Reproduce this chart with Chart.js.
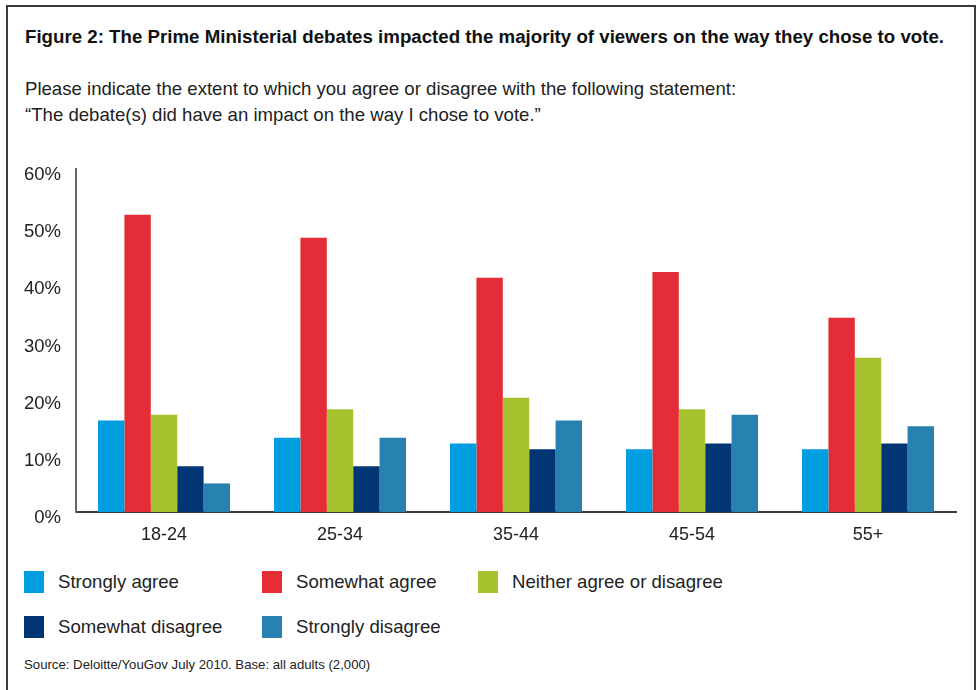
<!DOCTYPE html>
<html>
<head>
<meta charset="utf-8">
<script src="https://cdn.jsdelivr.net/npm/chart.js@4/dist/chart.umd.min.js"></script>
<style>
  html, body { margin: 0; padding: 0; background: #fff; }
  body { width: 980px; height: 690px; position: relative; overflow: hidden;
         font-family: "Liberation Sans", Arial, Helvetica, sans-serif; color: #222; }
  #frame { position: absolute; left: 6px; top: 5px; width: 970px; height: 700px;
           border: 2px solid #3a3a3a; box-sizing: border-box; }
  #title { position: absolute; left: 25px; top: 26px; font-size: 18.7px; font-weight: bold; color: #111; white-space: nowrap; }
  #sub { position: absolute; left: 25px; top: 76px; font-size: 18.6px; line-height: 26px; color: #222; white-space: nowrap; }
  #wrap { position: absolute; left: 0; top: 143px; width: 980px; height: 407px; }
  #legend { position: absolute; left: 24px; top: 571px; width: 900px; }
  .li { position: absolute; display: flex; align-items: center; font-size: 18.6px; color: #222; white-space: nowrap; height: 22px; }
  .sw { width: 20px; height: 22px; margin-right: 14px; }
  #source { position: absolute; left: 24px; top: 657px; font-size: 13.2px; color: #222; white-space: nowrap; }
</style>
</head>
<body>
<div id="frame"></div>
<div id="title">Figure 2: The Prime Ministerial debates impacted the majority of viewers on the way they chose to vote.</div>
<div id="sub">Please indicate the extent to which you agree or disagree with the following statement:<br>“The debate(s) did have an impact on the way I chose to vote.”</div>
<div id="wrap"><canvas id="c" width="980" height="407"></canvas></div>
<div id="legend"></div>
<div id="source">Source: Deloitte/YouGov July 2010. Base: all adults (2,000)</div>
<script>
const categories = ["18-24", "25-34", "35-44", "45-54", "55+"];
const seriesNames = ["Strongly agree", "Somewhat agree", "Neither agree or disagree", "Somewhat disagree", "Strongly disagree"];
const stronglyAgree   = [16, 13, 12, 11, 11];
const somewhatAgree   = [52, 48, 41, 42, 34];
const neither         = [17, 18, 20, 18, 27];
const somewhatDisagree= [8, 8, 11, 12, 12];
const stronglyDisagree= [5, 13, 16, 17, 15];
const yTicks = [0, 10, 20, 30, 40, 50, 60];
const colors = ["#009ee0", "#e52d38", "#a5c32f", "#023574", "#2782b0"];

const seriesValues = [stronglyAgree, somewhatAgree, neither, somewhatDisagree, stronglyDisagree];

const chart = new Chart(document.getElementById("c"), {
  type: "bar",
  data: {
    labels: categories,
    datasets: seriesValues.map((v, i) => ({
      label: seriesNames[i],
      data: v,
      backgroundColor: colors[i],
      borderWidth: 0,
      categoryPercentage: 0.75,
      barPercentage: 1.0
    }))
  },
  options: {
    responsive: false,
    animation: false,
    layout: { padding: { top: 13, right: 24, left: 0, bottom: 0 } },
    plugins: { legend: { display: false }, tooltip: { enabled: false } },
    scales: {
      x: {
        grid: { display: false, drawTicks: false },
        border: { display: true, color: "#3a3a3a", width: 2 },
        ticks: { color: "#222", font: { family: "Liberation Sans", size: 18 }, padding: 12 },
        afterFit: s => { s.height = 38; }
      },
      y: {
        min: 0, max: 60,
        afterBuildTicks: s => { s.ticks = yTicks.map(v => ({ value: v })); },
        grid: { display: false, drawTicks: false },
        border: { display: true, color: "#666", width: 2 },
        ticks: { color: "#222", font: { family: "Liberation Sans", size: 18.5 }, padding: 15,
                 labelOffset: 6, callback: v => v + "%" },
        afterFit: s => { s.width = 76; }
      }
    }
  }
});

const leg = document.getElementById("legend");
const cols = [0, 238, 454];
chart.data.datasets.forEach((ds, i) => {
  const d = document.createElement("div");
  d.className = "li";
  d.style.left = cols[i % 3] + "px";
  d.style.top = (Math.floor(i / 3) * 45) + "px";
  d.innerHTML = '<span class="sw" style="background:' + ds.backgroundColor + '"></span><span>' + ds.label + '</span>';
  leg.appendChild(d);
});
</script>
</body>
</html>
